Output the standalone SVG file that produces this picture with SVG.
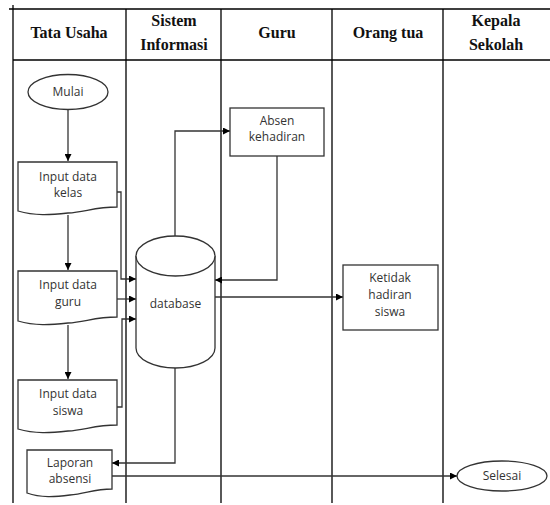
<svg xmlns="http://www.w3.org/2000/svg" width="550" height="505" viewBox="0 0 550 505">
<style>
.grid{stroke:#000;stroke-width:1.3;fill:none}
.hd{font-family:"Liberation Serif",serif;font-weight:bold;font-size:16px;fill:#111;text-anchor:middle}
.sh{fill:#fff;stroke:#333;stroke-width:1.3}
.tx{font-family:"Open Sans","DejaVu Sans",sans-serif;font-size:12px;fill:#333;text-anchor:middle}
.cn{stroke:#333;stroke-width:1.3;fill:none;marker-end:url(#ah)}
</style>
<defs>
<marker id="ah" viewBox="0 0 10 10" refX="10" refY="5" markerWidth="7" markerHeight="7" markerUnits="userSpaceOnUse" orient="auto">
<path d="M0,0 L10,5 L0,10 z" fill="#000"/>
</marker>
</defs>
<rect width="550" height="505" fill="#fff"/>
<g id="table">
<path class="grid" d="M9,9 H550 M13,5 V503 M13,60 H550 M126,9 V503 M221,9 V503 M332,9 V503 M443,9 V503"/>
<text class="hd" x="69" y="38">Tata Usaha</text>
<text class="hd" x="174" y="26">Sistem</text>
<text class="hd" x="174" y="50">Informasi</text>
<text class="hd" x="277" y="38">Guru</text>
<text class="hd" x="388" y="38">Orang tua</text>
<text class="hd" x="496" y="26">Kepala</text>
<text class="hd" x="496" y="50">Sekolah</text>
</g>
<g id="connectors">
<path class="cn" d="M68,110 V161"/>
<path class="cn" d="M68,215 V270"/>
<path class="cn" d="M68,325 V379"/>
<path class="cn" d="M117,192 H121 V279 H136"/>
<path class="cn" d="M117,299 H136"/>
<path class="cn" d="M117,407 H122 V319 H136"/>
<path class="cn" d="M175,236 V131 H230"/>
<path class="cn" d="M277,156 V280 H215"/>
<path class="cn" d="M215,297 H343"/>
<path class="cn" d="M175,368 V463 H112"/>
<path class="cn" d="M112,476 H457"/>
</g>
<g id="mulai">
<ellipse class="sh" cx="68" cy="92" rx="40" ry="17.5"/>
<text class="tx" x="68" y="96">Mulai</text>
</g>
<g id="input-kelas">
<path class="sh" d="M18,162 H117 V207 C95,207 85,212 68,213 C50,215 35,216 18,211 Z"/>
<text class="tx" x="68" y="181">Input data</text>
<text class="tx" x="68" y="197">kelas</text>
</g>
<g id="input-guru">
<path class="sh" d="M18,271 H117 V317 C95,317 85,322 68,323 C50,325 35,326 18,321 Z"/>
<text class="tx" x="68" y="289">Input data</text>
<text class="tx" x="68" y="306">guru</text>
</g>
<g id="input-siswa">
<path class="sh" d="M18,380 H117 V425 C95,425 85,430 68,431 C50,433 35,434 18,429 Z"/>
<text class="tx" x="68" y="398">Input data</text>
<text class="tx" x="68" y="415">siswa</text>
</g>
<g id="laporan">
<path class="sh" d="M27,450 H112 V489 C94,489 85,494 70,495 C55,497 41,498 27,493 Z"/>
<text class="tx" x="70" y="467">Laporan</text>
<text class="tx" x="70" y="483">absensi</text>
</g>
<g id="database">
<path class="sh" d="M136,256 V348 A39.5,20 0 0 0 215,348 V256 A39.5,20 0 0 0 136,256 Z"/>
<path class="sh" d="M136,256 A39.5,20 0 0 0 215,256" fill="none"/>
<text class="tx" x="175.5" y="308" font-size="13">database</text>
</g>
<g id="absen">
<rect class="sh" x="230" y="108" width="94" height="48"/>
<text class="tx" x="277" y="125">Absen</text>
<text class="tx" x="277" y="141">kehadiran</text>
</g>
<g id="ketidakhadiran">
<rect class="sh" x="343" y="265" width="95" height="65"/>
<text class="tx" x="390" y="282">Ketidak</text>
<text class="tx" x="390" y="299">hadiran</text>
<text class="tx" x="390" y="316">siswa</text>
</g>
<g id="selesai">
<ellipse class="sh" cx="502" cy="476" rx="45" ry="15"/>
<text class="tx" x="502" y="480">Selesai</text>
</g>
</svg>
